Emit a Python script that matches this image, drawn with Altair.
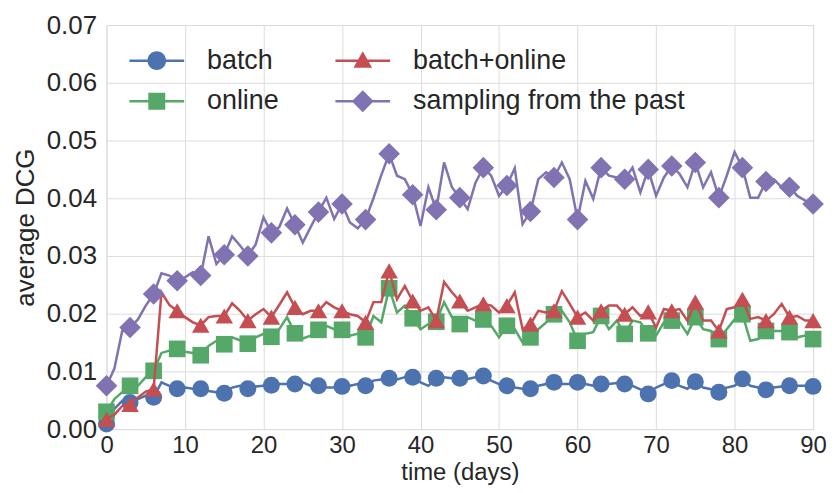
import altair as alt
import pandas as pd

days = list(range(0, 91))

batch = [0.0009,0.0035,0.0049,0.0046,0.0052,0.0058,0.0055,0.0081,0.0075,0.0070,
 0.0072,0.0070,0.0070,0.0066,0.0064,0.0062,0.0072,0.0075,0.0070,0.0074,
 0.0075,0.0076,0.0078,0.0078,0.0078,0.0081,0.0075,0.0075,0.0072,0.0072,
 0.0074,0.0075,0.0078,0.0075,0.0084,0.0086,0.0088,0.0086,0.0090,0.0090,
 0.0081,0.0075,0.0088,0.0090,0.0088,0.0088,0.0087,0.0090,0.0092,0.0084,
 0.0078,0.0075,0.0072,0.0070,0.0070,0.0075,0.0078,0.0081,0.0078,0.0078,
 0.0081,0.0078,0.0075,0.0078,0.0078,0.0080,0.0078,0.0075,0.0069,0.0061,
 0.0072,0.0078,0.0084,0.0075,0.0070,0.0082,0.0072,0.0069,0.0064,0.0072,
 0.0075,0.0087,0.0075,0.0072,0.0068,0.0072,0.0074,0.0075,0.0075,0.0075,
 0.0074]

online = [0.0030,0.0052,0.0064,0.0075,0.0075,0.0090,0.0101,0.0132,0.0136,0.0139,
 0.0134,0.0132,0.0128,0.0144,0.0153,0.0147,0.0159,0.0154,0.0148,0.0159,
 0.0165,0.0160,0.0173,0.0194,0.0166,0.0157,0.0162,0.0172,0.0179,0.0173,
 0.0172,0.0162,0.0165,0.0159,0.0196,0.0185,0.0244,0.0202,0.0214,0.0192,
 0.0173,0.0182,0.0186,0.0220,0.0194,0.0182,0.0194,0.0188,0.0190,0.0179,
 0.0159,0.0179,0.0173,0.0150,0.0159,0.0173,0.0185,0.0199,0.0205,0.0185,
 0.0153,0.0165,0.0168,0.0196,0.0173,0.0188,0.0165,0.0188,0.0185,0.0166,
 0.0162,0.0185,0.0188,0.0185,0.0165,0.0194,0.0173,0.0170,0.0156,0.0173,
 0.0190,0.0199,0.0153,0.0156,0.0170,0.0170,0.0170,0.0168,0.0159,0.0162,
 0.0156]

batch_online = [0.0017,0.0025,0.0040,0.0043,0.0055,0.0065,0.0069,0.0237,0.0215,0.0205,
 0.0194,0.0185,0.0180,0.0194,0.0196,0.0196,0.0218,0.0205,0.0188,0.0199,
 0.0208,0.0194,0.0215,0.0237,0.0211,0.0199,0.0205,0.0205,0.0220,0.0211,
 0.0205,0.0199,0.0196,0.0185,0.0220,0.0220,0.0274,0.0225,0.0248,0.0222,
 0.0205,0.0211,0.0188,0.0255,0.0237,0.0222,0.0205,0.0211,0.0217,0.0214,
 0.0202,0.0214,0.0237,0.0173,0.0182,0.0205,0.0202,0.0205,0.0239,0.0217,
 0.0194,0.0202,0.0188,0.0205,0.0214,0.0214,0.0199,0.0211,0.0196,0.0203,
 0.0176,0.0208,0.0205,0.0208,0.0188,0.0220,0.0188,0.0188,0.0170,0.0208,
 0.0211,0.0225,0.0191,0.0194,0.0188,0.0199,0.0217,0.0194,0.0196,0.0188,
 0.0188]

sampling = [0.0075,0.0105,0.0170,0.0176,0.0190,0.0214,0.0234,0.0270,0.0266,0.0257,
 0.0263,0.0272,0.0266,0.0334,0.0286,0.0302,0.0334,0.0318,0.0300,0.0320,
 0.0367,0.0340,0.0350,0.0382,0.0354,0.0323,0.0350,0.0376,0.0401,0.0364,
 0.0390,0.0358,0.0348,0.0363,0.0400,0.0440,0.0477,0.0439,0.0433,0.0406,
 0.0352,0.0419,0.0380,0.0462,0.0419,0.0401,0.0381,0.0427,0.0453,0.0439,
 0.0404,0.0422,0.0452,0.0355,0.0377,0.0433,0.0445,0.0436,0.0462,0.0433,
 0.0363,0.0430,0.0399,0.0453,0.0439,0.0436,0.0433,0.0453,0.0410,0.0450,
 0.0404,0.0436,0.0456,0.0442,0.0419,0.0462,0.0419,0.0445,0.0401,0.0439,
 0.0480,0.0453,0.0401,0.0401,0.0429,0.0433,0.0419,0.0419,0.0404,0.0396,
 0.0390]

series_names = ["batch", "online", "batch+online", "sampling from the past"]
series_values = [batch, online, batch_online, sampling]
series_colors = ["#4C72B0", "#55A868", "#C44E52", "#8172B2"]
marker_shapes = ["circle", "square", "triangle-up", "diamond"]
marker_sizes = [290, 280, 310, 470]
legend_shapes = [
    "M-1,-0.045H1V0.045H-1Z M0.34,0A0.34,0.34,0,1,1,-0.34,0A0.34,0.34,0,1,1,0.34,0Z",
    "M-1,-0.045H1V0.045H-1Z M-0.31,-0.31H0.31V0.31H-0.31Z",
    "M-1,-0.045H1V0.045H-1Z M0,-0.34L0.34,0.26L-0.34,0.26Z",
    "M-1,-0.045H1V0.045H-1Z M0,-0.4L0.4,0L0,0.4L-0.4,0Z",
]

rows = []
for name, vals in zip(series_names, series_values):
    for d, v in zip(days, vals):
        rows.append({"day": d, "value": v, "series": name})
df = pd.DataFrame(rows)

color_scale = alt.Scale(domain=series_names, range=series_colors)
x_enc = alt.X("day:Q", scale=alt.Scale(domain=[0, 90], nice=False),
              axis=alt.Axis(values=list(range(0, 91, 10)), title="time (days)"))
y_enc = alt.Y("value:Q", scale=alt.Scale(domain=[0, 0.07], nice=False),
              axis=alt.Axis(values=[0, 0.01, 0.02, 0.03, 0.04, 0.05, 0.06, 0.07],
                            format=".2f", title="average DCG"))

base = alt.Chart(df)

leg_props = dict(
    title=None, orient="none", legendX=23, legendY=8, columns=2,
    symbolSize=3025, symbolStrokeWidth=0, symbolOpacity=1,
    labelFontSize=27, labelFont="Liberation Sans", labelColor="#262626",
    labelOffset=23, columnPadding=56, rowPadding=-2, padding=0,
    labelLimit=400,
)
# legend-only layer (first, so its legend settings win): no rows drawn,
# the entries come from the explicit scale domains
legend_layer = base.transform_filter("false").mark_point(filled=True, opacity=1).encode(
    x=x_enc, y=y_enc,
    color=alt.Color("series:N", scale=color_scale, legend=alt.Legend(**leg_props)),
    shape=alt.Shape("series:N", scale=alt.Scale(domain=series_names, range=legend_shapes),
                    legend=alt.Legend(**leg_props)),
)
layers = [legend_layer]
for name, shp, sz in zip(series_names, marker_shapes, marker_sizes):
    sub = base.transform_filter(alt.datum.series == name)
    layers.append(
        sub.mark_line(strokeWidth=2.5).encode(
            x=x_enc, y=y_enc,
            color=alt.Color("series:N", scale=color_scale, legend=None),
        )
    )
    layers.append(
        sub.transform_filter("datum.day % 3 == 0").mark_point(
            shape=shp, filled=True, size=sz, opacity=1, strokeWidth=0
        ).encode(
            x=x_enc, y=y_enc,
            color=alt.Color("series:N", scale=color_scale, legend=None),
        )
    )

chart = alt.layer(*layers).properties(
    width=710, height=406,
    autosize=alt.AutoSizeParams(type="none"),
    padding={"left": 99, "top": 16, "right": 15, "bottom": 55},
).configure_view(
    stroke="#dcdcdc", strokeWidth=1
).configure_axis(
    grid=True, gridColor="#dcdcdc", gridWidth=1,
    domain=False, ticks=False, tickSize=0,
    labelFont="Liberation Sans", labelFontSize=26, labelColor="#262626",
    titleFont="Liberation Sans", titleFontSize=26, titleFontWeight="normal",
    titleColor="#262626",
).configure_axisX(
    labelFontSize=24, labelPadding=5, titlePadding=3, titleFontSize=24,
    labelFlush=False,
).configure_axisY(
    labelPadding=10, titlePadding=8,
)

chart.save("out.html", embed_options={"renderer": "svg", "actions": False})
